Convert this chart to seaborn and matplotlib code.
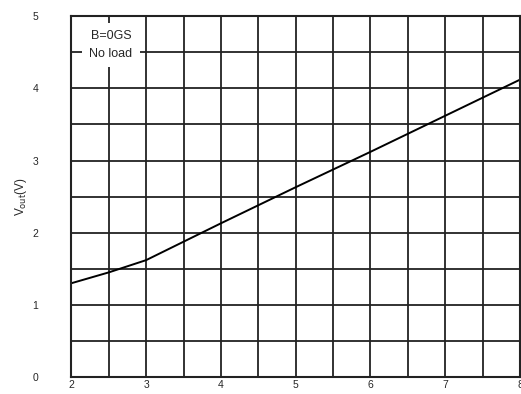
import matplotlib
matplotlib.use('Agg')
import matplotlib.pyplot as plt
import seaborn as sns
import numpy as np
import pandas as pd

# Supply voltage (V) vs output voltage (V)
vcc = [2.0, 2.5, 3.0, 4.0, 5.0, 6.0, 7.0, 8.0]
vout = [1.30, 1.45, 1.62, 2.13, 2.63, 3.12, 3.62, 4.12]

x_ticks = [2, 3, 4, 5, 6, 7, 8]
y_ticks = [0, 1, 2, 3, 4, 5]

sns.set_style('white')
plt.rcParams['font.family'] = ['Liberation Sans', 'DejaVu Sans']

df = pd.DataFrame({'vcc': vcc, 'vout': vout})

fig = plt.figure(figsize=(5.21, 3.94), dpi=100)
ax = fig.add_axes([0.137, 0.043, 0.861, 0.916])

sns.lineplot(data=df, x='vcc', y='vout', color='black', linewidth=1.4, ax=ax)

ax.set_xlim(2, 8)
ax.set_ylim(0, 5)
ax.set_xticks(np.arange(2, 8.01, 0.5), minor=True)
ax.set_yticks(np.arange(0, 5.01, 0.5), minor=True)
ax.set_xticks(x_ticks)
ax.set_yticks(y_ticks)
ax.grid(True, which='both', color='#222222', linewidth=1.3)
ax.tick_params(which='both', length=0, labelsize=7.5)
ax.tick_params(axis='y', pad=24)
ax.tick_params(axis='x', pad=2)
for s in ax.spines.values():
    s.set_color('#222222')
    s.set_linewidth(1.5)

ax.set_xlabel('')
ax.set_ylabel(r'V$_{\rm out}$(V)', fontsize=8.5, labelpad=2)

ax.text(2.53, 4.6, 'B=0GS\nNo load', fontsize=9, ha='center', va='center',
        linespacing=1.6,
        bbox=dict(facecolor='white', edgecolor='none', pad=5))

fig.savefig('out.png', dpi=100)
